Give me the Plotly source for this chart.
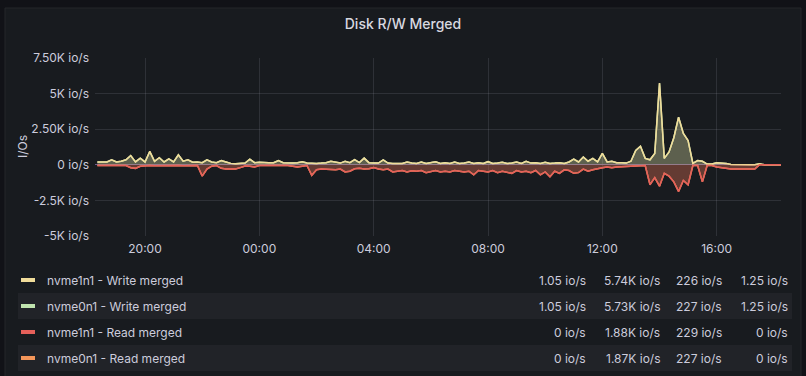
import plotly.graph_objects as go
from datetime import datetime, timedelta

# ---------------- data ----------------
start = datetime(2023, 5, 1, 18, 20)
times = [start + timedelta(minutes=10 * i) for i in range(145)]

write_nvme1n1 = [
    200, 220, 200, 350, 200, 250, 350, 650, 200, 470,
    200, 940, 250, 500, 200, 420, 200, 700, 250, 350,
    180, 200, 150, 350, 200, 150, 300, 200, 100, 80,
    100, 120, 400, 150, 180, 150, 150, 150, 300, 150,
    120, 120, 150, 220, 120, 100, 100, 120, 150, 250,
    200, 120, 250, 150, 370, 150, 470, 150, 120, 120,
    350, 120, 100, 120, 100, 200, 120, 100, 200, 100,
    150, 220, 100, 150, 100, 200, 100, 120, 200, 100,
    150, 100, 220, 100, 120, 180, 100, 120, 200, 100,
    250, 120, 150, 100, 180, 100, 120, 150, 100, 200,
    400, 200, 550, 250, 450, 200, 800, 200, 250, 150,
    150, 120, 250, 1000, 1300, 450, 350, 800, 5740, 450,
    900, 1900, 3350, 2200, 1700, 100, 300, 250, 50, 50,
    150, 150, 100, 20, 5, 2, 1.5, 1.2, 1.1, 80,
    1.05, 1.1, 1.2, 1.25, 1.25,
]
write_nvme0n1 = [
    200, 220, 200, 350, 200, 250, 350, 650, 200, 470,
    200, 930, 250, 500, 200, 420, 200, 700, 250, 350,
    180, 200, 150, 350, 200, 150, 300, 200, 100, 80,
    100, 120, 400, 150, 180, 150, 150, 150, 300, 150,
    120, 120, 150, 220, 120, 100, 100, 120, 150, 250,
    200, 120, 250, 150, 370, 150, 470, 150, 120, 120,
    350, 120, 100, 120, 100, 200, 120, 100, 200, 100,
    150, 220, 100, 150, 100, 200, 100, 120, 200, 100,
    150, 100, 220, 100, 120, 180, 100, 120, 200, 100,
    250, 120, 150, 100, 180, 100, 120, 150, 100, 200,
    400, 200, 550, 250, 450, 200, 800, 200, 250, 150,
    150, 120, 250, 1000, 1300, 450, 350, 800, 5730, 450,
    900, 1900, 3340, 2200, 1700, 100, 300, 250, 50, 50,
    150, 150, 100, 20, 5, 2, 1.5, 1.2, 1.1, 80,
    1.05, 1.1, 1.2, 1.25, 1.25,
]
read_nvme1n1 = [
    50, 50, 60, 50, 50, 60, 50, 200, 250, 100,
    50, 50, 60, 50, 50, 60, 50, 50, 60, 50,
    50, 50, 800, 300, 100, 50, 250, 300, 280, 300,
    200, 80, 100, 150, 50, 50, 50, 50, 50, 40,
    50, 100, 150, 100, 50, 750, 350, 300, 320, 300,
    350, 300, 500, 450, 280, 250, 300, 280, 200, 300,
    350, 300, 500, 450, 400, 500, 420, 450, 400, 550,
    450, 400, 500, 450, 500, 400, 450, 500, 450, 700,
    400, 450, 500, 400, 550, 450, 500, 600, 400, 500,
    450, 550, 400, 700, 500, 850, 450, 600, 350, 400,
    600, 550, 300, 450, 350, 250, 200, 150, 200, 150,
    150, 120, 100, 80, 50, 50, 1400, 900, 1500, 600,
    800, 1200, 1880, 1100, 1400, 50, 50, 1200, 50, 50,
    150, 200, 300, 300, 300, 300, 300, 300, 300, 0,
    0, 0, 0, 0, 0,
]
read_nvme0n1 = [
    50, 50, 60, 50, 50, 60, 50, 200, 250, 100,
    50, 50, 60, 50, 50, 60, 50, 50, 60, 50,
    50, 50, 790, 300, 100, 50, 250, 300, 280, 300,
    200, 80, 100, 150, 50, 50, 50, 50, 50, 40,
    50, 100, 150, 100, 50, 740, 350, 300, 320, 300,
    350, 300, 500, 450, 280, 250, 300, 280, 200, 300,
    350, 300, 500, 450, 400, 500, 420, 450, 400, 550,
    450, 400, 500, 450, 500, 400, 450, 500, 450, 700,
    400, 450, 500, 400, 550, 450, 500, 600, 400, 500,
    450, 550, 400, 700, 500, 840, 450, 600, 350, 400,
    600, 550, 300, 450, 350, 250, 200, 150, 200, 150,
    150, 120, 100, 80, 50, 50, 1390, 900, 1500, 600,
    800, 1200, 1870, 1100, 1400, 50, 50, 1200, 50, 50,
    150, 200, 300, 300, 300, 300, 300, 300, 300, 0,
    0, 0, 0, 0, 0,
]

y_tickvals = [7500, 5000, 2500, 0, -2500, -5000]
y_ticktext = ["7.50K io/s", "5K io/s", "2.50K io/s", "0 io/s", "-2.5K io/s", "-5K io/s"]
x_tickvals = [datetime(2023, 5, 1, 20), datetime(2023, 5, 2, 0), datetime(2023, 5, 2, 4),
              datetime(2023, 5, 2, 8), datetime(2023, 5, 2, 12), datetime(2023, 5, 2, 16)]
x_ticktext = ["20:00", "00:00", "04:00", "08:00", "12:00", "16:00"]

legend_names = ["nvme1n1 - Write merged", "nvme0n1 - Write merged",
                "nvme1n1 - Read merged", "nvme0n1 - Read merged"]
legend_min = ["1.05 io/s", "1.05 io/s", "0 io/s", "0 io/s"]
legend_max = ["5.74K io/s", "5.73K io/s", "1.88K io/s", "1.87K io/s"]
legend_mean = ["226 io/s", "227 io/s", "229 io/s", "227 io/s"]
legend_last = ["1.25 io/s", "1.25 io/s", "0 io/s", "0 io/s"]

# ---------------- style ----------------
W, H = 806, 376
L, R, T, B = 95, 25, 58, 140
FONT = "Inter, Roboto, sans-serif"
TXT = "#ccccdc"
C_Y = "#F0DC9A"
C_G = "#BFE3AE"
C_R = "#E5605A"
C_O = "#F4965A"
colors = [C_Y, C_G, C_R, C_O]


def fx(px):
    return (px - L) / (W - L - R)


def fy(py):
    return (H - B - py) / (H - T - B)


def rgba(hexc, a):
    h = hexc.lstrip("#")
    return "rgba(%d,%d,%d,%s)" % (int(h[0:2], 16), int(h[2:4], 16), int(h[4:6], 16), a)


fig = go.Figure()
series = [
    (write_nvme0n1, C_G, 1),
    (write_nvme1n1, C_Y, 1),
    (read_nvme0n1, C_O, -1),
    (read_nvme1n1, C_R, -1),
]
for vals, col, sgn in series:
    fig.add_trace(go.Scatter(
        x=times, y=[sgn * v for v in vals], mode="lines",
        line=dict(color=col, width=1.5), fill="tozeroy",
        fillcolor=rgba(col, 0.2), showlegend=False, hoverinfo="skip"))

shapes = [
    dict(type="rect", xref="paper", yref="paper", x0=fx(5), x1=fx(801), y0=fy(8), y1=fy(380),
         fillcolor="#181b1f", line=dict(color="#24262b", width=1), layer="below"),
]
annotations = [
    dict(text="I/Os", x=fx(22), y=fy(147), xref="paper", yref="paper", showarrow=False,
         textangle=-90, font=dict(family=FONT, size=12, color=TXT), xanchor="center", yanchor="middle"),
]
row_y = [280, 306, 332, 358]
col_right = [588, 662, 724, 790]
for k in range(4):
    cy = row_y[k]
    if k % 2 == 1:
        shapes.append(dict(type="rect", xref="paper", yref="paper", x0=fx(18), x1=fx(792),
                           y0=fy(cy - 13), y1=fy(cy + 13), fillcolor="#212328",
                           line=dict(width=0), layer="below"))
    shapes.append(dict(type="rect", xref="paper", yref="paper", x0=fx(21), x1=fx(35),
                       y0=fy(cy - 2), y1=fy(cy + 2), fillcolor=colors[k], line=dict(width=0)))
    annotations.append(dict(text=legend_names[k], x=fx(45), y=fy(cy), xref="paper", yref="paper",
                            showarrow=False, xanchor="left", yanchor="middle",
                            font=dict(family=FONT, size=12, color=TXT)))
    for c, vals in enumerate([legend_min, legend_max, legend_mean, legend_last]):
        annotations.append(dict(text=vals[k], x=fx(col_right[c]), y=fy(cy), xref="paper", yref="paper",
                                showarrow=False, xanchor="right", yanchor="middle",
                                font=dict(family=FONT, size=12, color=TXT)))

fig.update_layout(
    width=W, height=H,
    margin=dict(l=L, r=R, t=T, b=B, pad=0),
    paper_bgcolor="#111217", plot_bgcolor="rgba(0,0,0,0)",
    title=dict(text="Disk R/W Merged", x=(403) / W, xref="container", xanchor="center",
               y=1 - 24 / H, yref="container", yanchor="middle",
               font=dict(family=FONT, size=14, color="#d8d9e0", weight=500)),
    shapes=shapes, annotations=annotations,
    xaxis=dict(range=[datetime(2023, 5, 1, 18, 15), datetime(2023, 5, 2, 18, 15)],
               tickvals=x_tickvals, ticktext=x_ticktext, showgrid=True,
               gridcolor="rgba(204,204,220,0.13)", gridwidth=1, zeroline=False,
               showline=False, ticks="", ticklabelstandoff=4,
               tickfont=dict(family=FONT, size=12, color=TXT)),
    yaxis=dict(range=[-5000, 7500], tickvals=y_tickvals, ticktext=y_ticktext, showgrid=True,
               gridcolor="rgba(204,204,220,0.13)", gridwidth=1, zeroline=True,
               zerolinecolor="#6f5a8c", zerolinewidth=1, showline=False, ticks="",
               ticklabelstandoff=5, tickfont=dict(family=FONT, size=12, color=TXT)),
)

fig.write_html("out.html", config={"displayModeBar": False},
               post_script="document.body.style.margin='0';document.body.style.background='#111217';")
